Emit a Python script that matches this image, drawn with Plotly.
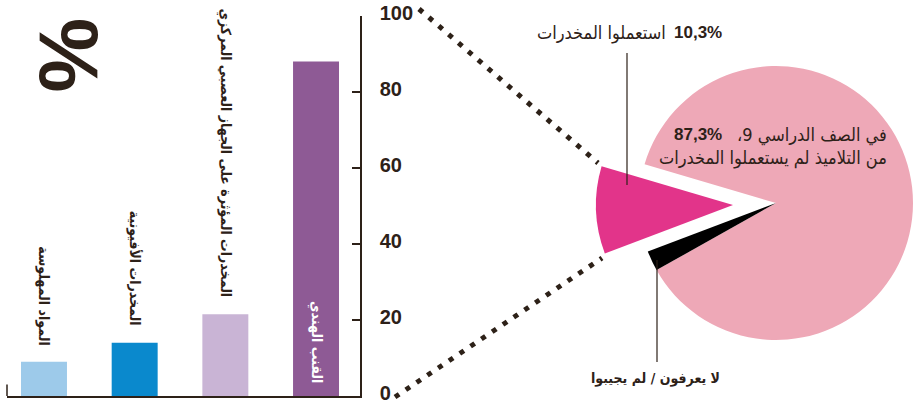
import plotly.graph_objects as go

W, H = 918, 404

# ---- data ----
bar_categories = ["المواد المهلوسة", "المخدرات الأفيونية",
                  "المخدرات المؤثرة على الجهاز العصبي المركزي", "القنب الهندي"]
bar_values = [9, 14, 21.5, 88]
bar_colors = ["#9dcaea", "#0a89cd", "#c9b4d5", "#8e5a95"]
y_ticks = [0, 20, 40, 60, 80, 100]

pie_labels = ["لم يستعملوا المخدرات", "لا يعرفون / لم يجيبوا", "استعملوا المخدرات"]
pie_values = [87.3, 2.4, 10.3]
pie_colors = ["#eea8b7", "#000000", "#e2348a"]

INK = "#2d2118"
AR_FONT = "DejaVu Sans Condensed, DejaVu Sans, Liberation Sans, sans-serif"
NUM_FONT = "Liberation Sans, Arial, sans-serif"
RLM = "\u200f"


def px(x):
    return x / W


def py(y):
    return (H - y) / H


fig = go.Figure()

# bars
fig.add_trace(go.Bar(
    x=list(range(len(bar_values))), y=bar_values, width=0.507,
    marker=dict(color=bar_colors, line=dict(width=0)),
    xaxis="x", yaxis="y", showlegend=False, hoverinfo="y"))

# main pie (pink + black), magenta slice drawn transparent here
fig.add_trace(go.Pie(
    values=pie_values, labels=pie_labels, sort=False, direction="clockwise",
    rotation=286.4, textinfo="none", showlegend=False,
    marker=dict(colors=[pie_colors[0], pie_colors[1], "rgba(0,0,0,0)"], line=dict(width=0)),
    domain=dict(x=[px(639), px(913)], y=[py(340), py(66)])))

# exploded magenta slice
fig.add_trace(go.Pie(
    values=pie_values, labels=pie_labels, sort=False, direction="clockwise",
    rotation=286.4, textinfo="none", showlegend=False,
    marker=dict(colors=["rgba(0,0,0,0)", "rgba(0,0,0,0)", pie_colors[2]], line=dict(width=0)),
    domain=dict(x=[px(596), px(870)], y=[py(342), py(68)])))

annotations = []
# bar labels (vertical)
for i, (cat, val) in enumerate(zip(bar_categories, bar_values)):
    inside = i == 3
    annotations.append(dict(
        x=i, y=0 if inside else val, xref="x", yref="y",
        text=cat, textangle=90, showarrow=False,
        xanchor="center", yanchor="bottom", yshift=11 if inside else 15,
        font=dict(family=AR_FONT, size=14, color="white" if inside else INK, weight="bold")))

# big percent sign
annotations.append(dict(x=px(69), y=py(55), xref="paper", yref="paper", text="%",
                        textangle=90, showarrow=False, xanchor="center", yanchor="middle",
                        font=dict(family=NUM_FONT, size=84, color=INK, weight="bold")))

# pie labels
pie_ann = [
    dict(x=px(724), y=py(33), text="10,3%", xanchor="right",
         font=dict(family=NUM_FONT, size=17, color=INK, weight="bold")),
    dict(x=px(668), y=py(33), text="استعملوا المخدرات", xanchor="right",
         font=dict(family=AR_FONT, size=18, color=INK)),
    dict(x=px(889), y=py(135), text=RLM + "في الصف الدراسي 9،" + RLM, xanchor="right",
         font=dict(family=AR_FONT, size=18, color=INK)),
    dict(x=px(724), y=py(135), text="87,3%", xanchor="right",
         font=dict(family=NUM_FONT, size=17, color=INK, weight="bold")),
    dict(x=px(889), y=py(158), text="من التلاميذ لم يستعملوا المخدرات", xanchor="right",
         font=dict(family=AR_FONT, size=18, color=INK)),
    dict(x=px(722), y=py(378), text="لا يعرفون / لم يجيبوا", xanchor="right",
         font=dict(family=AR_FONT, size=14, color=INK, weight="bold")),
]
for a in pie_ann:
    a.update(xref="paper", yref="paper", yanchor="middle", showarrow=False)
annotations += pie_ann

shapes = [
    # small tick at left end of baseline
    dict(type="line", xref="x domain", yref="y", x0=0, x1=0, y0=0, y1=3,
         line=dict(color=INK, width=1.5)),
    # dotted connectors
    dict(type="line", xref="paper", yref="paper", x0=px(419), y0=py(9), x1=px(598), y1=py(163),
         line=dict(color=INK, width=5, dash="5px,8px")),
    dict(type="line", xref="paper", yref="paper", x0=px(395), y0=py(397), x1=px(602), y1=py(258),
         line=dict(color=INK, width=5, dash="5px,8px")),
    # leader lines
    dict(type="line", xref="paper", yref="paper", x0=px(627), y0=py(53), x1=px(627), y1=py(185),
         line=dict(color=INK, width=1.2)),
    dict(type="line", xref="paper", yref="paper", x0=px(657), y0=py(260), x1=px(657), y1=py(362),
         line=dict(color=INK, width=1.2)),
]

fig.update_layout(
    width=W, height=H, margin=dict(l=0, r=0, t=0, b=0, autoexpand=False),
    paper_bgcolor="white", plot_bgcolor="white",
    xaxis=dict(domain=[px(7), px(360)], range=[-0.408, 3.485], showline=True,
               linecolor=INK, linewidth=1.5, showticklabels=False, ticks="",
               showgrid=False, zeroline=False, fixedrange=True, automargin=False),
    yaxis=dict(domain=[py(396), py(16)], range=[0, 100], side="right",
               tickvals=y_ticks, ticks="inside", ticklen=8, tickwidth=1.5, tickcolor=INK,
               showline=True, linecolor=INK, linewidth=1.5, showgrid=False, zeroline=False,
               ticklabelstandoff=14, ticklabelshift=-3, automargin=False,
               ticklabeloverflow="allow",
               tickfont=dict(family=NUM_FONT, size=20, color=INK, weight="bold"),
               fixedrange=True),
    annotations=annotations, shapes=shapes,
)

fig.write_html("out.html", config={"displayModeBar": False},
               post_script="document.body.style.margin='0';document.body.style.overflow='hidden';")
